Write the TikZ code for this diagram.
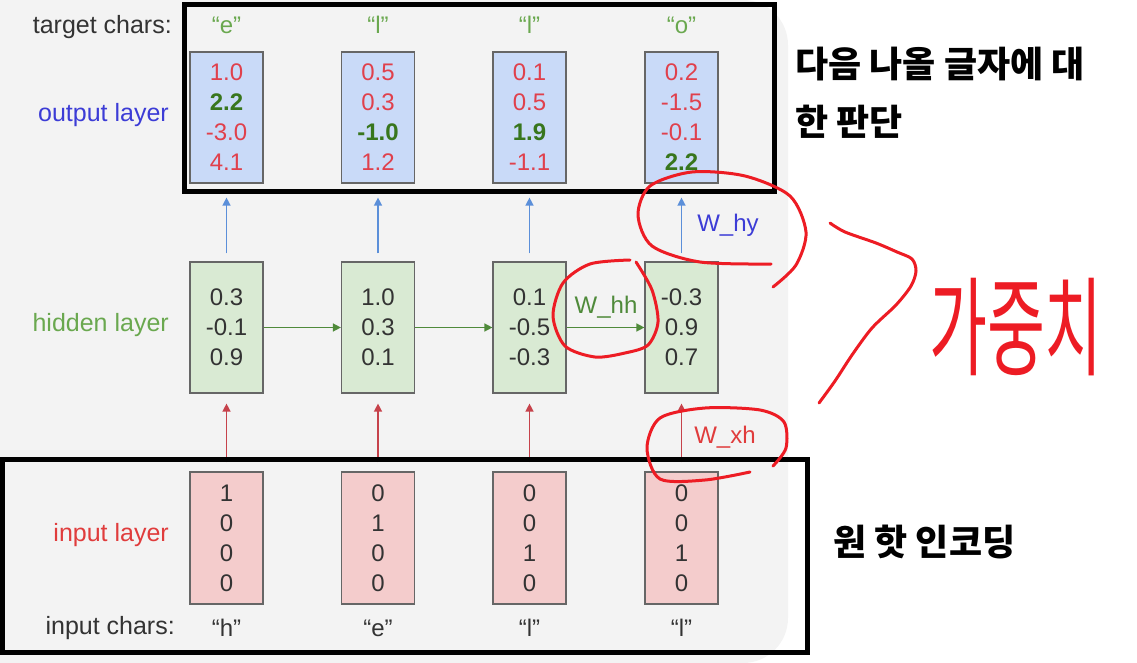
\documentclass[tikz,border=0pt]{standalone}
\usepackage{fontspec}
\setmainfont{Liberation Sans}
\newfontfamily\kofont{Noto Sans CJK KR}
\usepackage{tikz}
\usetikzlibrary{arrows.meta,positioning}

\definecolor{slidebg}{HTML}{F3F3F3}
\definecolor{boxline}{HTML}{666666}
\definecolor{outfill}{HTML}{C9DAF8}
\definecolor{hidfill}{HTML}{D9EAD3}
\definecolor{infill}{HTML}{F4CCCC}
\definecolor{valred}{HTML}{E0404C}
\definecolor{valgreen}{HTML}{38761D}
\definecolor{labgreen}{HTML}{6AA84F}
\definecolor{labblue}{HTML}{3C3CD6}
\definecolor{labred}{HTML}{E03C3C}
\definecolor{arrblue}{HTML}{5B8FD9}
\definecolor{arrred}{HTML}{C6424B}
\definecolor{arrgreen}{HTML}{4F8A3A}
\definecolor{annot}{HTML}{ED1C24}
\definecolor{numgray}{HTML}{333333}

\newcommand{\rv}[1]{{\color{valred}#1}}
\newcommand{\gv}[1]{{\color{valgreen}\bfseries #1}}

\begin{document}
\begin{tikzpicture}[x=1pt,y=-1pt]
  % Styles
  \tikzset{
    outbox/.style={rectangle, draw=boxline, fill=outfill, line width=1.2pt, minimum width=73pt,
      minimum height=131pt, align=center, inner sep=0pt, font=\fontsize{24}{30}\selectfont},
    hidbox/.style={rectangle, draw=boxline, fill=hidfill, line width=1.2pt, minimum width=73pt,
      minimum height=131pt, align=center, inner sep=0pt, text=numgray, font=\fontsize{24}{30}\selectfont},
    inbox/.style={rectangle, draw=boxline, fill=infill, line width=1.2pt, minimum width=73pt,
      minimum height=132pt, align=center, inner sep=0pt, text=numgray, font=\fontsize{24}{30}\selectfont},
    rowlabel/.style={anchor=east, inner sep=0pt, font=\fontsize{25}{30}\selectfont},
    charlabel/.style={inner sep=0pt, font=\fontsize{24}{30}\selectfont},
    wlabel/.style={inner sep=0pt, font=\fontsize{24}{30}\selectfont},
    frame/.style={draw=black, line width=5pt},
    note/.style={anchor=west, inner sep=0pt, font=\kofont\bfseries\fontsize{36}{40}\selectfont},
    annotline/.style={draw=annot, line width=3pt, line cap=round, line join=round},
    uparrow/.style={-{Triangle[length=8pt,width=8pt]}, line width=1.4pt},
    outarrow/.style={uparrow, arrblue, shorten <=8pt, shorten >=14pt},
    inarrow/.style={uparrow, arrred, shorten <=9pt, shorten >=10pt},
    hharrow/.style={uparrow, arrgreen}
  }

  \useasboundingbox (0,0) rectangle (1137,663);

  % Slide background
  \fill[slidebg, rounded corners=45pt] (-60,0) rectangle (788,663);

  % Row labels
  \node[rowlabel, text=black!80] (tgtlab) at (172,27) {target chars:};
  \node[rowlabel, text=labblue] (outlab) at (169,115) {output layer};
  \node[rowlabel, text=labgreen] (hidlab) at (169,325) {hidden layer};
  \node[rowlabel, text=labred] (inlab) at (169,535) {input layer};
  \node[rowlabel, text=black!80] (inchlab) at (175,628) {input chars:};

  % Target chars
  \node[charlabel, text=labgreen] (tgt1) at (226.5,25) {“e”};
  \node[charlabel, text=labgreen] (tgt2) at (378,25) {“l”};
  \node[charlabel, text=labgreen] (tgt3) at (529.5,25) {“l”};
  \node[charlabel, text=labgreen] (tgt4) at (681.5,25) {“o”};

  % Output layer
  \node[outbox] (out1) at (226.5,117.5) {\rv{1.0}\\\gv{2.2}\\\rv{-3.0}\\\rv{4.1}};
  \node[outbox] (out2) at (378,117.5) {\rv{0.5}\\\rv{0.3}\\\gv{-1.0}\\\rv{1.2}};
  \node[outbox] (out3) at (529.5,117.5) {\rv{0.1}\\\rv{0.5}\\\gv{1.9}\\\rv{-1.1}};
  \node[outbox] (out4) at (681.5,117.5) {\rv{0.2}\\\rv{-1.5}\\\rv{-0.1}\\\gv{2.2}};

  % Hidden layer
  \node[hidbox] (hid1) at (226.5,327.5) {0.3\\-0.1\\0.9};
  \node[hidbox] (hid2) at (378,327.5) {1.0\\0.3\\0.1};
  \node[hidbox] (hid3) at (529.5,327.5) {0.1\\-0.5\\-0.3};
  \node[hidbox] (hid4) at (681.5,327.5) {-0.3\\0.9\\0.7};

  % Input layer
  \node[inbox] (in1) at (226.5,538) {1\\0\\0\\0};
  \node[inbox] (in2) at (378,538) {0\\1\\0\\0};
  \node[inbox] (in3) at (529.5,538) {0\\0\\1\\0};
  \node[inbox] (in4) at (681.5,538) {0\\0\\1\\0};

  % Input chars
  \node[charlabel, text=black!80] (inch1) at (226.5,628) {“h”};
  \node[charlabel, text=black!80] (inch2) at (378,628) {“e”};
  \node[charlabel, text=black!80] (inch3) at (529.5,628) {“l”};
  \node[charlabel, text=black!80] (inch4) at (681.5,628) {“l”};

  % Arrows
  \draw[outarrow] (hid1) -- (out1);
  \draw[outarrow] (hid2) -- (out2);
  \draw[outarrow] (hid3) -- (out3);
  \draw[outarrow] (hid4) -- (out4);
  \draw[inarrow] (in1) -- (hid1);
  \draw[inarrow] (in2) -- (hid2);
  \draw[inarrow] (in3) -- (hid3);
  \draw[inarrow] (in4) -- (hid4);
  \draw[hharrow] (hid1) -- (hid2);
  \draw[hharrow] (hid2) -- (hid3);
  \draw[hharrow] (hid3) -- (hid4);

  % Weight labels
  \node[wlabel, text=labblue] (why) at (728,225) {W\_hy};
  \node[wlabel, text=arrgreen] (whh) at (606,307) {W\_hh};
  \node[wlabel, text=labred] (wxh) at (725,437) {W\_xh};

  % Black frames
  \draw[frame] (184,5) rectangle (774,192);
  \draw[frame] (2,459) rectangle (807,652);

  % Notes
  \node[note] (note1) at (795,64) {다음 나올 글자에 대};
  \node[note] (note2) at (795,122) {한 판단};
  \node[note] (note3) at (833,542) {원 핫 인코딩};

  % Hand-drawn marks
  \draw[annotline] plot[smooth] coordinates {(771,264) (700,262) (652,246) (638,215) (650,186)
    (692,172) (745,176) (790,196) (806,232) (796,265) (773,287)};
  \draw[annotline] plot[smooth] coordinates {(636,262) (652,290) (658,322) (648,345) (625,353)
    (595,357) (565,346) (553,316) (563,283) (590,264) (630,260)};
  \draw[annotline] plot[smooth] coordinates {(773,466) (786,448) (784,422) (760,410) (705,408)
    (660,418) (647,448) (660,479) (705,480) (750,472)};
  \draw[annotline] plot[smooth] coordinates {(830,223) (845,232) (876,243) (897,252) (912,259)
    (916,271) (911,286) (896,305) (872,328) (852,355) (835,381) (819,403)};
  \node[inner sep=0pt, text=annot, font=\kofont\fontsize{60}{60}\selectfont] (gajungchi)
    at (1016,327) {\scalebox{1.05}[1.8]{가중치}};
\end{tikzpicture}
\end{document}
